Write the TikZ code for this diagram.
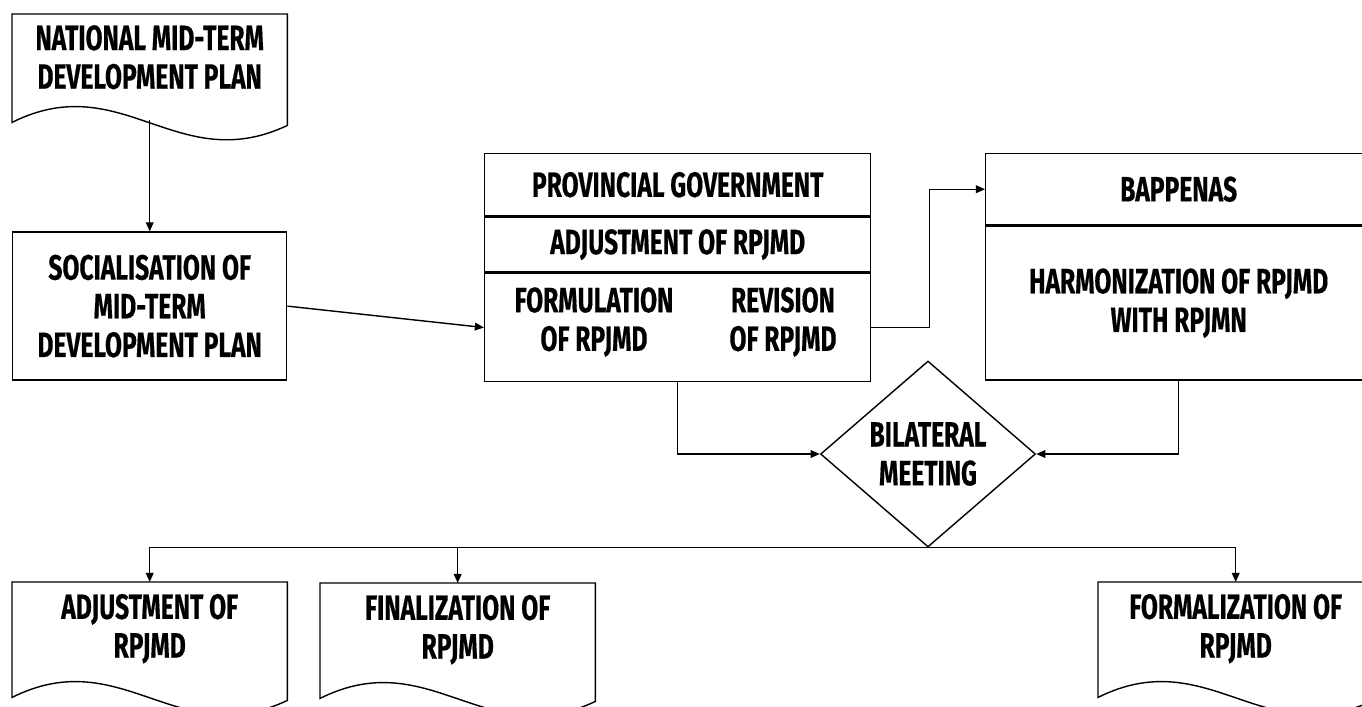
\documentclass[tikz,border=0pt]{standalone}
\usepackage{fontspec}
\setmainfont{Fira Sans}[FakeStretch=0.7, FakeBold=0.4]
\usetikzlibrary{positioning, arrows.meta, shapes.geometric, calc}

% outline of a document node: flat top, wavy bottom
\newcommand{\docoutline}[1]{%
	\draw (#1.north west) -- (#1.north east) -- ($(#1.south east)+(0,-0.25)$)
		.. controls ($(#1.south west)!0.6!(#1.south east)+(0,-0.77)$) and ($(#1.south west)!0.4!(#1.south east)+(0,0.33)$) .. ($(#1.south west)+(0,-0.22)$)
		-- cycle;}

\begin{document}
\begin{tikzpicture}
	[font=\bfseries\fontsize{10}{11}\selectfont,
	 box/.style={draw, rectangle, align=center, inner sep=0pt, minimum width=2.74cm},
	 doc/.style={rectangle, align=center, inner sep=0pt, minimum width=2.74cm},
	 decision/.style={diamond, draw, align=center, inner sep=0pt, minimum width=2.15cm, minimum height=1.86cm},
	 arr/.style={-{Triangle[length=2.6pt,width=2.2pt]}}]
	\useasboundingbox (0,0) rectangle (13.62,-7.06);

	% left column
	\node[doc, anchor=north west, minimum height=0.85cm] (natplan) at (0.12,-0.14) {NATIONAL MID-TERM\\DEVELOPMENT PLAN};
	\coordinate (natplanbot) at ($(natplan.south)+(0,-0.2)$);
	\node[box, below=1.31cm of natplan, minimum height=1.48cm] (social) {SOCIALISATION OF\\MID-TERM\\DEVELOPMENT PLAN};

	% provincial government
	\node[box, anchor=north west, minimum width=3.86cm, minimum height=0.62cm] (provhead) at (4.84,-1.53) {PROVINCIAL GOVERNMENT};
	\node[box, below=0cm of provhead, minimum width=3.86cm, minimum height=0.55cm] (provadj) {ADJUSTMENT OF RPJMD};
	\node[box, below=0cm of provadj, minimum width=3.86cm, minimum height=1.08cm] (provbody) {};
	\node[align=center] (formul) at (5.94,-3.22) {FORMULATION\\OF RPJMD};
	\node[align=center] (revis) at (7.83,-3.22) {REVISION\\OF RPJMD};

	% bappenas
	\node[box, anchor=north west, minimum width=3.86cm, minimum height=0.71cm] (bapphead) at (9.85,-1.53) {BAPPENAS};
	\node[box, below=0cm of bapphead, minimum width=3.86cm, minimum height=1.54cm] (bappbody) {HARMONIZATION OF RPJMD\\WITH RPJMN};

	\node[decision] (meet) at (9.28,-4.54) {BILATERAL\\MEETING};

	% outputs
	\node[doc, anchor=north west, minimum height=0.92cm] (adjdoc) at (0.12,-5.82) {ADJUSTMENT OF\\RPJMD};
	\node[doc, anchor=north west, minimum height=0.92cm] (findoc) at (3.20,-5.83) {FINALIZATION OF\\RPJMD};
	\node[doc, anchor=north west, minimum height=0.92cm] (formdoc) at (10.98,-5.82) {FORMALIZATION OF\\RPJMD};

	\docoutline{natplan}
	\docoutline{adjdoc}
	\docoutline{findoc}
	\docoutline{formdoc}

	\draw[arr] (natplanbot) -- (social.north);
	\draw[arr] (social.east) -- (provbody.west);
	\draw[arr] (provbody.east) -- ++(0.58,0) |- (bapphead.west);
	\draw[arr] (provbody.south) |- (meet.west);
	\draw[arr] (bappbody.south) |- (meet.east);
	\draw[arr] (meet.south) -| (adjdoc.north);
	\draw[arr] (meet.south) -| (findoc.north);
	\draw[arr] (meet.south) -| (formdoc.north);
\end{tikzpicture}
\end{document}
